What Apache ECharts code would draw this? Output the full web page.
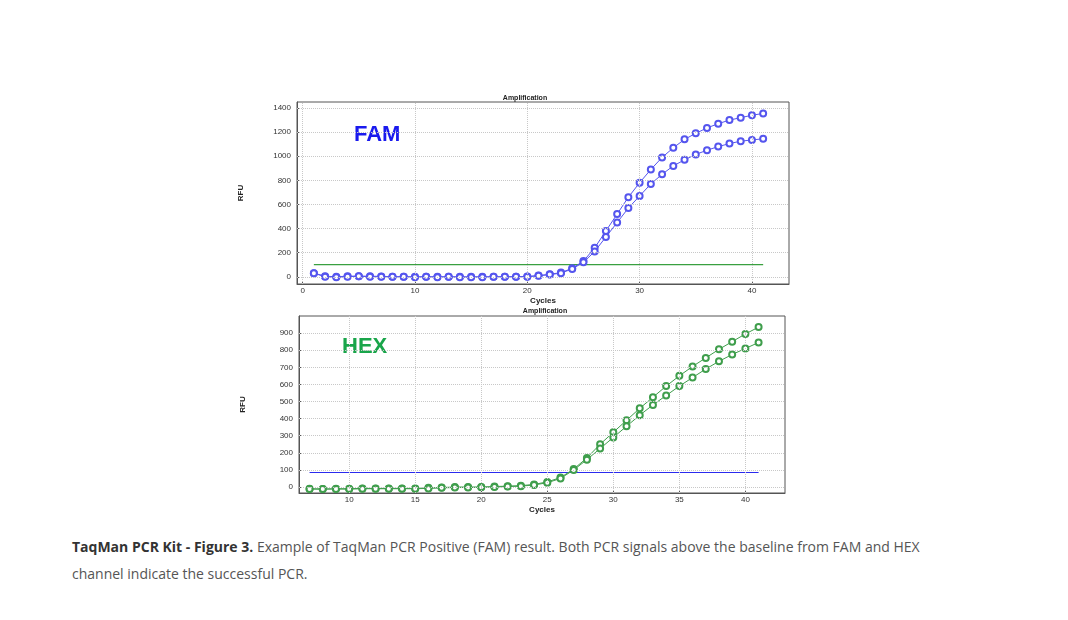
<!DOCTYPE html>
<html lang="en">
<head>
    <meta charset="UTF-8">
    <title>TaqMan PCR Kit - Figure 3</title>
    <script src="https://cdn.jsdelivr.net/npm/echarts@6/dist/echarts.min.js"></script>
    <style>
        body { margin: 0; background: #fff; font-family: "Open Sans", sans-serif; }
        #chart { width: 1068px; height: 520px; }
        .caption { position: absolute; left: 72px; top: 533px; width: 890px; font-size: 14px; line-height: 27px; color: #555; }
        .caption b { color: #333; }
    </style>
</head>
<body>
<div id="chart"></div>
<div class="caption"><b>TaqMan PCR Kit - Figure 3.</b> Example of TaqMan PCR Positive (FAM) result. Both PCR signals above the baseline from FAM and HEX channel indicate the successful PCR.</div>

<script>
    // FAM channel, cycles 1..41
    var famCycles = [1,2,3,4,5,6,7,8,9,10,11,12,13,14,15,16,17,18,19,20,21,22,23,24,25,26,27,28,29,30,31,32,33,34,35,36,37,38,39,40,41];
    var famA = [30,5,0,5,5,5,3,0,0,0,0,0,0,0,0,0,0,0,0,3,10,20,35,70,130,240,380,520,660,780,890,990,1070,1140,1190,1235,1270,1300,1320,1340,1355];
    var famB = [30,0,-5,0,5,0,0,0,0,-3,0,-3,0,-5,-3,-3,0,0,0,0,8,18,30,65,120,210,330,450,570,670,770,850,920,970,1015,1050,1080,1105,1125,1135,1145];
    var famThreshold = [[1, 100], [41, 100]];

    // HEX channel, cycles 7..41
    var hexCycles = [7,8,9,10,11,12,13,14,15,16,17,18,19,20,21,22,23,24,25,26,27,28,29,30,31,32,33,34,35,36,37,38,39,40,41];
    var hexA = [-10,-12,-10,-10,-8,-8,-8,-8,-8,-5,-3,0,0,0,3,5,8,15,30,55,105,170,250,320,390,460,525,590,650,705,755,805,850,895,935];
    var hexB = [-12,-12,-12,-12,-10,-10,-10,-10,-10,-8,-5,-3,-3,-2,0,3,5,12,25,50,100,160,225,290,355,420,480,535,590,640,690,735,775,810,845];
    var hexThreshold = [[7, 85], [41, 85]];

    var famTicksX = [0, 10, 20, 30, 40];
    var famTicksY = [0, 200, 400, 600, 800, 1000, 1200, 1400];
    var hexTicksX = [10, 15, 20, 25, 30, 35, 40];
    var hexTicksY = [0, 100, 200, 300, 400, 500, 600, 700, 800, 900];

    var famColor = '#5555ee';
    var hexColor = '#3f9e4c';

    function pairs(xs, ys) {
        return xs.map(function (x, i) { return [x, ys[i]]; });
    }

    function xAxis(idx, min, max, ticks) {
        return {
            type: 'value', gridIndex: idx, min: min, max: max,
            name: 'Cycles', nameLocation: 'middle', nameGap: 13,
            nameTextStyle: { fontSize: 8, fontWeight: 'bold', color: '#222' },
            axisLine: { show: true, onZero: false, lineStyle: { color: '#555' } },
            axisTick: { show: true, customValues: ticks, length: 3, inside: true, lineStyle: { color: '#555' } },
            axisLabel: { customValues: ticks, fontSize: 8, color: '#333', margin: 3, formatter: function (v) { return String(v); } },
            splitLine: { show: false }
        };
    }

    function yAxis(idx, min, max, ticks) {
        return {
            type: 'value', gridIndex: idx, min: min, max: max,
            name: 'RFU', nameLocation: 'middle', nameGap: 52, nameRotate: 90,
            nameTextStyle: { fontSize: 8, fontWeight: 'bold', color: '#222' },
            axisLine: { show: true, onZero: false, lineStyle: { color: '#555' } },
            axisTick: { show: true, customValues: ticks, length: 3, inside: true, lineStyle: { color: '#555' } },
            axisLabel: { customValues: ticks, fontSize: 8, color: '#333', margin: 6, formatter: function (v) { return String(v); } },
            splitLine: { show: false }
        };
    }

    // dotted grid lines at the tick values, drawn through the axes
    function gridLines(idx, xs, ys) {
        var lines = xs.map(function (v) { return { xAxis: v }; })
            .concat(ys.map(function (v) { return { yAxis: v }; }));
        return {
            type: 'line', xAxisIndex: idx, yAxisIndex: idx, data: [], silent: true,
            markLine: {
                silent: true, symbol: 'none', label: { show: false }, animation: false,
                lineStyle: { color: '#c8c8c8', type: 'dotted', width: 1 },
                data: lines
            }
        };
    }

    function curve(name, data, color, idx) {
        return {
            name: name, type: 'line', xAxisIndex: idx, yAxisIndex: idx, data: data,
            symbol: 'emptyCircle', symbolSize: 6,
            lineStyle: { color: color, width: 1 },
            itemStyle: { color: color, borderColor: color, borderWidth: 1 },
            animation: false
        };
    }

    function threshold(data, color, idx) {
        return {
            type: 'line', xAxisIndex: idx, yAxisIndex: idx, data: data,
            symbol: 'none', lineStyle: { color: color, width: 1.2 }, animation: false
        };
    }

    var chart = echarts.init(document.getElementById('chart'));
    chart.setOption({
        backgroundColor: '#fff',
        title: [
            { text: 'Amplification', left: 520, top: 90, textAlign: 'center', textStyle: { fontSize: 7, fontWeight: 'bold', color: '#222' } },
            { text: 'Amplification', left: 540, top: 303, textAlign: 'center', textStyle: { fontSize: 7, fontWeight: 'bold', color: '#222' } }
        ],
        grid: [
            { left: 297, top: 102, width: 492, height: 182, show: true, borderColor: '#555', borderWidth: 1 },
            { left: 299, top: 316, width: 486, height: 177, show: true, borderColor: '#555', borderWidth: 1 }
        ],
        xAxis: [xAxis(0, -0.5, 43.3, famTicksX), xAxis(1, 6.2, 43, hexTicksX)],
        yAxis: [yAxis(0, -60, 1450, famTicksY), yAxis(1, -35, 1000, hexTicksY)],
        graphic: [
            { type: 'text', left: 354, top: 124, style: { text: 'FAM', fontSize: 22, fontWeight: 'bold', fill: '#1a1aee', fontFamily: 'Liberation Sans' } },
            { type: 'text', left: 342, top: 336, style: { text: 'HEX', fontSize: 22, fontWeight: 'bold', fill: '#19a54a', fontFamily: 'Liberation Sans' } }
        ],
        series: [
            gridLines(0, famTicksX, famTicksY),
            gridLines(1, hexTicksX, hexTicksY),
            threshold(famThreshold, '#3aa040', 0),
            curve('FAM A', pairs(famCycles, famA), famColor, 0),
            curve('FAM B', pairs(famCycles, famB), famColor, 0),
            threshold(hexThreshold, '#2a2aee', 1),
            curve('HEX A', pairs(hexCycles, hexA), hexColor, 1),
            curve('HEX B', pairs(hexCycles, hexB), hexColor, 1)
        ]
    });
</script>
</body>
</html>
